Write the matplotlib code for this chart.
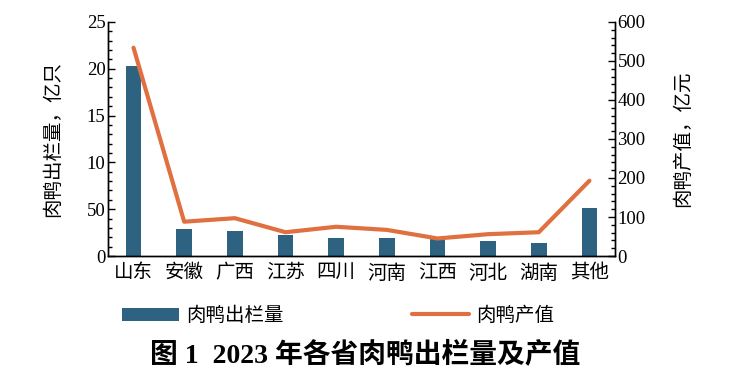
import matplotlib.pyplot as plt
from matplotlib.ticker import MultipleLocator

plt.rcParams['font.family'] = ['Liberation Serif', 'Noto Sans CJK SC']

provinces = ["山东", "安徽", "广西", "江苏", "四川", "河南", "江西", "河北", "湖南", "其他"]
stock_out = [20.3, 2.85, 2.65, 2.25, 1.9, 1.9, 1.8, 1.65, 1.4, 5.15]   # 亿只
output_value = [534, 88, 97, 61, 75, 67, 45, 56, 61, 193]            # 亿元
left_ticks = [0, 5, 10, 15, 20, 25]
left_labels = ["0", "50", "10", "15", "20", "25"]

bar_color = '#2d6381'
line_color = '#e0703f'

fig = plt.figure(figsize=(7.31, 3.85), dpi=100)
ax = fig.add_axes([0.148, 0.335, 0.693, 0.608])
ax2 = ax.twinx()

x = range(len(provinces))
ax.bar(x, stock_out, width=0.31, color=bar_color, label="肉鸭出栏量")
ax2.plot(x, output_value, color=line_color, lw=3, solid_capstyle='round',
         label="肉鸭产值")

ax.set_xlim(-0.5, 9.5)
ax.set_ylim(0, 25)
ax2.set_ylim(0, 600)

ax.set_xticks(list(x))
ax.set_xticklabels(provinces, fontsize=14)
ax.tick_params(axis='x', length=0, pad=6)

ax.set_yticks(left_ticks)
ax.set_yticklabels(left_labels, fontsize=13.5)
ax.yaxis.set_minor_locator(MultipleLocator(1))
ax.tick_params(axis='y', which='major', direction='in', length=5, width=1, pad=2)
ax.tick_params(axis='y', which='minor', direction='in', length=3, width=1)

ax2.yaxis.set_major_locator(MultipleLocator(100))
ax2.yaxis.set_minor_locator(MultipleLocator(20))
ax2.tick_params(axis='y', which='major', direction='in', length=5, width=1, pad=2,
                labelsize=13.5)
ax2.tick_params(axis='y', which='minor', direction='in', length=3, width=1)

for a in (ax, ax2):
    a.spines['top'].set_visible(False)
    for s in a.spines.values():
        s.set_linewidth(1)

ax.set_ylabel("肉鸭出栏量，亿只", fontsize=14, labelpad=18)
ax2.set_ylabel("肉鸭产值，亿元", fontsize=14, labelpad=20)

h1, l1 = ax.get_legend_handles_labels()
h2, l2 = ax2.get_legend_handles_labels()
fig.legend(h1 + h2, l1 + l2, loc='center', bbox_to_anchor=(0.463, 0.179), ncol=2,
           frameon=False, fontsize=14, handlelength=2.9, columnspacing=6.6,
           handletextpad=0.4)

fig.text(0.5, 0.078, "图 1  2023 年各省肉鸭出栏量及产值", ha='center', va='center',
         fontsize=20, fontweight='bold')

fig.savefig('out.png', dpi=100)
